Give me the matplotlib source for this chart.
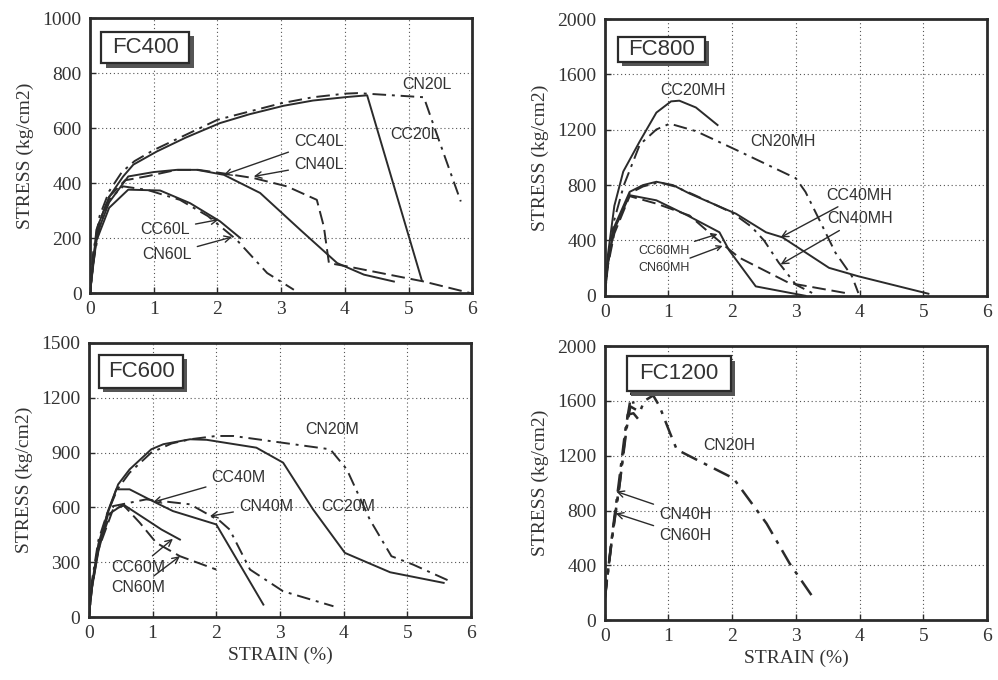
import matplotlib
matplotlib.use("Agg")
import matplotlib.pyplot as plt
from matplotlib.patches import Rectangle

# ---------------- data (strain %, stress kg/cm2) ----------------
# FC400
cc20l_x = [0, 0.05, 0.1, 0.3, 0.52, 0.68, 1.05, 1.5, 2.04, 2.5, 3.04, 3.5, 4.04, 4.35, 5.21]
cc20l_y = [0, 110, 230, 350, 424, 467, 515, 565, 618, 650, 681, 700, 713, 719, 45]
cn20l_x = [0, 0.05, 0.15, 0.3, 0.5, 0.7, 1.0, 1.5, 2.0, 2.5, 3.0, 3.5, 4.0, 4.2, 5.24, 5.4, 5.82]
cn20l_y = [0, 150, 280, 370, 440, 480, 520, 575, 630, 660, 690, 712, 725, 727, 712, 606, 333]
cc40l_x = [0, 0.05, 0.1, 0.3, 0.6, 1.0, 1.36, 1.68, 2.1, 2.67, 3.3, 3.88, 4.3, 4.77]
cc40l_y = [0, 110, 210, 330, 424, 440, 448, 448, 430, 364, 230, 109, 67, 42]
cn40l_x = [0, 0.05, 0.15, 0.3, 0.55, 0.9, 1.36, 1.7, 2.1, 2.57, 3.09, 3.56, 3.67, 3.75, 4.04, 5.24, 5.97]
cn40l_y = [0, 120, 260, 350, 410, 425, 448, 448, 435, 418, 388, 339, 242, 109, 97, 42, 0]
cc60l_x = [0, 0.05, 0.1, 0.3, 0.6, 1.1, 1.57, 2.04, 2.36]
cc60l_y = [0, 100, 190, 310, 376, 373, 327, 261, 200]
cn60l_x = [0, 0.05, 0.15, 0.3, 0.52, 0.9, 1.41, 1.85, 2.3, 2.78, 3.2]
cn60l_y = [0, 110, 240, 340, 388, 375, 339, 280, 194, 73, 12]

# FC800
cc20mh_x = [0, 0.05, 0.15, 0.29, 0.55, 0.81, 1.04, 1.17, 1.43, 1.77]
cc20mh_y = [0, 300, 650, 898, 1117, 1324, 1405, 1410, 1361, 1234]
cn20mh_x = [0, 0.05, 0.15, 0.3, 0.55, 0.81, 1.02, 1.43, 2.11, 3.0, 3.15, 3.36, 3.62, 3.88, 3.98]
cn20mh_y = [0, 250, 550, 800, 1093, 1202, 1244, 1190, 1044, 849, 751, 556, 312, 141, 20]
cc40mh_x = [0, 0.05, 0.15, 0.39, 0.6, 0.81, 1.07, 1.33, 2.06, 2.53, 2.79, 3.52, 3.98, 5.08]
cc40mh_y = [0, 250, 500, 751, 800, 824, 800, 739, 593, 459, 422, 202, 141, 15]
cn40mh_x = [0, 0.05, 0.15, 0.39, 0.6, 0.85, 1.1, 1.4, 2.0, 2.3, 2.5, 2.73, 3.0, 3.3]
cn40mh_y = [0, 230, 480, 740, 790, 820, 790, 730, 600, 500, 400, 240, 80, 10]
cc60mh_x = [0, 0.05, 0.15, 0.39, 0.81, 1.3, 1.8, 1.95, 2.37, 3.15]
cc60mh_y = [0, 250, 480, 727, 690, 580, 459, 330, 68, 0]
cn60mh_x = [0, 0.05, 0.15, 0.39, 0.81, 1.33, 1.85, 2.11, 2.89, 3.78]
cn60mh_y = [0, 220, 450, 720, 666, 580, 373, 276, 93, 20]

# FC600
cc20m_x = [0, 0.05, 0.15, 0.28, 0.46, 0.64, 0.98, 1.17, 1.59, 1.85, 2.63, 3.05, 3.52, 4.02, 4.73, 5.57]
cc20m_y = [0, 180, 400, 552, 726, 808, 918, 946, 973, 970, 927, 845, 589, 351, 245, 187]
cn20m_x = [0, 0.05, 0.15, 0.28, 0.45, 0.64, 0.98, 1.3, 1.59, 2.0, 2.27, 3.79, 4.05, 4.41, 4.75, 5.09, 5.67]
cn20m_y = [0, 200, 420, 560, 700, 790, 900, 950, 973, 991, 991, 918, 808, 534, 333, 287, 196]
cc40m_x = [0, 0.05, 0.15, 0.3, 0.43, 0.64, 1.0, 1.32, 2.0, 2.74]
cc40m_y = [0, 170, 380, 580, 699, 699, 635, 580, 507, 68]
cn40m_x = [0, 0.05, 0.15, 0.38, 0.9, 1.59, 2.06, 2.21, 2.53, 3.05, 3.84]
cn40m_y = [0, 170, 380, 607, 644, 617, 525, 479, 260, 141, 59]
cc60m_x = [0, 0.05, 0.15, 0.3, 0.54, 0.9, 1.14, 1.43]
cc60m_y = [0, 160, 360, 560, 616, 534, 479, 424]
cn60m_x = [0, 0.05, 0.15, 0.38, 0.55, 0.8, 1.06, 1.43, 2.0]
cn60m_y = [0, 160, 370, 589, 610, 516, 406, 333, 260]

# FC1200
cn20h_x = [0, 0.13, 0.24, 0.34, 0.4, 0.55, 0.62, 0.76, 0.86, 1.02, 1.13, 1.34, 2.02, 2.54, 2.9, 3.3]
cn20h_y = [170, 660, 1020, 1390, 1560, 1520, 1600, 1640, 1560, 1370, 1245, 1195, 1035, 705, 415, 145]
cn40h_x = [0, 0.12, 0.22, 0.32, 0.42, 0.45]
cn40h_y = [150, 640, 1000, 1380, 1660, 1580]
cn60h_x = [0, 0.12, 0.23, 0.36, 0.45, 0.52]
cn60h_y = [160, 620, 980, 1500, 1510, 1470]

# ---------------- style ----------------
INK = "#2b2b2b"
SERIF = "Liberation Serif"
SANS = "Liberation Sans"
DASH = (0, (7, 3))
DASHDOT = (0, (7, 3, 1.5, 3))

fig = plt.figure(figsize=(9.98, 6.8), dpi=100)
fig.patch.set_facecolor("white")


def setup(ax, ymax, ystep, xlabel):
    ax.set_xlim(0, 6)
    ax.set_ylim(0, ymax)
    ax.set_xticks(range(0, 7))
    ax.set_yticks(range(0, ymax + 1, ystep))
    ax.grid(True, color="#555555", linestyle=(0, (1, 2.5)), linewidth=0.8)
    ax.tick_params(direction="in", length=4, width=1, colors=INK, labelsize=14,
                   pad=6)
    for lab in ax.get_xticklabels() + ax.get_yticklabels():
        lab.set_fontfamily(SERIF)
        lab.set_color("#333333")
    for sp in ax.spines.values():
        sp.set_linewidth(2)
        sp.set_color(INK)
    ax.set_ylabel("STRESS (kg/cm2)", fontfamily=SERIF, fontsize=14, color="#333333",
                  labelpad=6)
    if xlabel:
        ax.set_xlabel("STRAIN (%)", fontfamily=SERIF, fontsize=14, color="#333333",
                      labelpad=3)


def title_box(ax, text, x0, y0, w, h):
    ax.add_patch(Rectangle((x0 + 0.011, y0 - 0.016), w, h, transform=ax.transAxes,
                           facecolor="#555555", edgecolor="none", zorder=5))
    ax.add_patch(Rectangle((x0, y0), w, h, transform=ax.transAxes, facecolor="white",
                           edgecolor=INK, linewidth=1.6, zorder=6))
    ax.text(x0 + w / 2, y0 + h / 2, text, transform=ax.transAxes, ha="center",
            va="center", fontsize=16, fontfamily=SANS, color="#333333", zorder=7)


def label(ax, text, pos, target=None, size=11.5):
    if target is None:
        ax.text(pos[0], pos[1], text, ha="center", va="center", fontsize=size,
                fontfamily=SANS, color="#333333")
    else:
        ax.annotate(text, xy=target, xytext=pos, ha="center", va="center",
                    fontsize=size, fontfamily=SANS, color="#333333",
                    arrowprops=dict(arrowstyle="->", color=INK, lw=1.0,
                                    shrinkA=2, shrinkB=0))


def curve(ax, x, y, ls, lw=1.4):
    ax.plot(x, y, color=INK, linestyle=ls, linewidth=lw)


# ---------------- FC400 ----------------
ax1 = fig.add_axes([0.0902, 0.569, 0.383, 0.4045])
setup(ax1, 1000, 200, False)
curve(ax1, cc20l_x, cc20l_y, "-")
curve(ax1, cn20l_x, cn20l_y, DASHDOT)
curve(ax1, cc40l_x, cc40l_y, "-")
curve(ax1, cn40l_x, cn40l_y, DASH)
curve(ax1, cc60l_x, cc60l_y, "-")
curve(ax1, cn60l_x, cn60l_y, DASHDOT)
label(ax1, "CN20L", (5.29, 758))
label(ax1, "CC20L", (5.1, 576))
label(ax1, "CC40L", (3.59, 551), (2.1, 430))
label(ax1, "CN40L", (3.59, 467), (2.57, 424))
label(ax1, "CC60L", (1.18, 230), (2.02, 267))
label(ax1, "CN60L", (1.21, 139), (2.23, 204))
title_box(ax1, "FC400", 0.03, 0.836, 0.23, 0.114)

# ---------------- FC800 ----------------
ax2 = fig.add_axes([0.606, 0.565, 0.383, 0.407])
setup(ax2, 2000, 400, False)
curve(ax2, cc20mh_x, cc20mh_y, "-")
curve(ax2, cn20mh_x, cn20mh_y, DASHDOT)
curve(ax2, cc40mh_x, cc40mh_y, "-")
curve(ax2, cn40mh_x, cn40mh_y, DASHDOT)
curve(ax2, cc60mh_x, cc60mh_y, "-")
curve(ax2, cn60mh_x, cn60mh_y, DASH)
label(ax2, "CC20MH", (1.38, 1483))
label(ax2, "CN20MH", (2.8, 1117))
label(ax2, "CC40MH", (4.0, 727), (2.76, 422))
label(ax2, "CN40MH", (4.0, 556), (2.76, 227))
label(ax2, "CC60MH", (0.93, 324), (1.77, 446), size=9)
label(ax2, "CN60MH", (0.93, 202), (1.85, 361), size=9)
title_box(ax2, "FC800", 0.035, 0.846, 0.227, 0.09)

# ---------------- FC600 ----------------
ax3 = fig.add_axes([0.089, 0.0926, 0.383, 0.403])
setup(ax3, 1500, 300, True)
curve(ax3, cc20m_x, cc20m_y, "-")
curve(ax3, cn20m_x, cn20m_y, DASHDOT)
curve(ax3, cc40m_x, cc40m_y, "-")
curve(ax3, cn40m_x, cn40m_y, DASHDOT)
curve(ax3, cc60m_x, cc60m_y, "-")
curve(ax3, cn60m_x, cn60m_y, DASH)
label(ax3, "CN20M", (3.82, 1028))
label(ax3, "CC20M", (4.07, 607))
label(ax3, "CC40M", (2.35, 763), (1.01, 629))
label(ax3, "CN40M", (2.78, 607), (1.9, 552))
label(ax3, "CC60M", (0.77, 269), (1.32, 428))
label(ax3, "CN60M", (0.77, 159), (1.43, 333))
title_box(ax3, "FC600", 0.027, 0.836, 0.22, 0.121)

# ---------------- FC1200 ----------------
ax4 = fig.add_axes([0.606, 0.088, 0.383, 0.403])
setup(ax4, 2000, 400, True)
curve(ax4, cn20h_x, cn20h_y, DASHDOT, lw=1.8)
curve(ax4, cn40h_x, cn40h_y, DASHDOT, lw=1.8)
curve(ax4, cn60h_x, cn60h_y, DASHDOT, lw=1.8)
label(ax4, "CN20H", (1.96, 1273))
label(ax4, "CN40H", (1.26, 768), (0.18, 939))
label(ax4, "CN60H", (1.26, 615), (0.17, 780))
title_box(ax4, "FC1200", 0.057, 0.835, 0.273, 0.128)

fig.savefig("out.png", dpi=100, facecolor="white")
